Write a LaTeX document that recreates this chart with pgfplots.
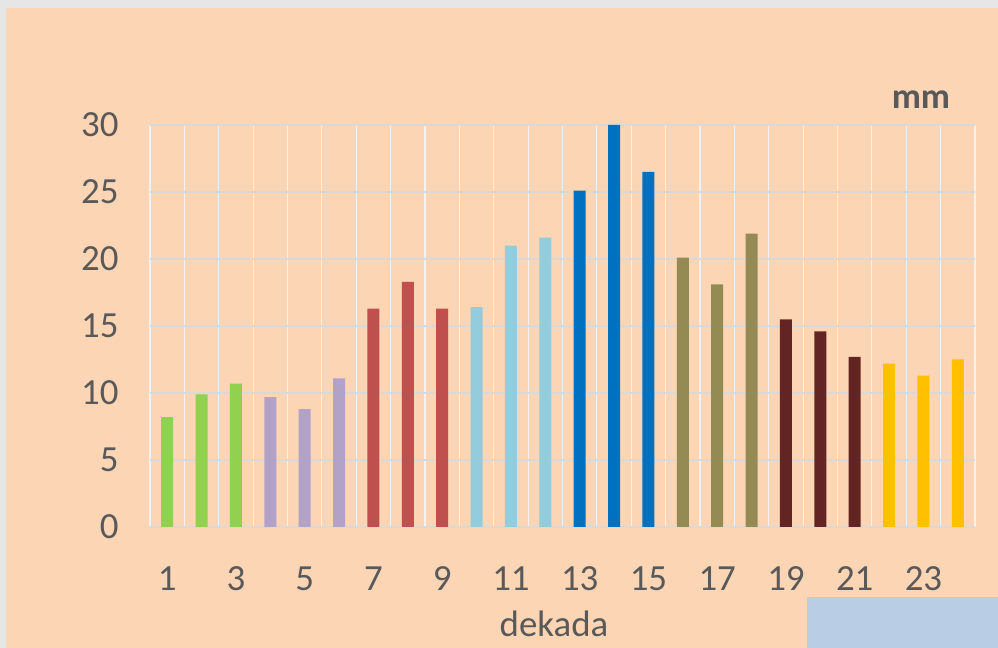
\documentclass[border=0pt]{standalone}
\usepackage{pgfplots}
\pgfplotsset{compat=1.18}
\usepackage{fontspec}
\setmainfont{Carlito}
\definecolor{peach}{HTML}{FCD5B5}
\definecolor{bordergrey}{HTML}{E6E6E6}
\definecolor{bluebox}{HTML}{B9CDE5}
\definecolor{txt}{HTML}{595959}
\definecolor{gridh}{HTML}{D9D9D9}
\definecolor{gridv}{HTML}{F2F2F2}
\definecolor{c1}{HTML}{92D050}
\definecolor{c2}{HTML}{B3A2C7}
\definecolor{c3}{HTML}{C0504D}
\definecolor{c4}{HTML}{93CDDD}
\definecolor{c5}{HTML}{0070C0}
\definecolor{c6}{HTML}{948A54}
\definecolor{c7}{HTML}{632523}
\definecolor{c8}{HTML}{FFC000}
\begin{document}
\begin{tikzpicture}[x=1bp,y=1bp]
\fill[bordergrey] (0,0) rectangle (998,648);
\fill[peach] (6,0) rectangle (998,640);
\fill[bluebox] (807,0) rectangle (998,51);
\begin{axis}[
  at={(150bp,121bp)}, anchor=south west,
  scale only axis, width=825bp, height=402bp,
  xmin=0.5, xmax=24.5, ymin=0, ymax=30,
  xtick={1,3,...,23},
  minor xtick={0.5,1.5,...,24.5},
  ytick={0,5,...,30},
  ymajorgrids, xminorgrids,
  major grid style={draw=gridh, line width=1.2pt},
  minor grid style={draw=gridv, line width=1.2pt},
  axis line style={draw=none},
  x axis line style={draw=gridh, line width=1.2pt},
  axis x line*=bottom, axis y line*=left,
  y axis line style={draw=none},
  major tick length=0pt, minor tick length=0pt,
  tick style={draw=none},
  /pgf/number format/assume math mode=true,
  ticklabel style={font=\fontsize{37}{42}\selectfont, text=txt},
  xticklabel style={yshift=-36bp},
  yticklabel style={xshift=-28bp},
  ybar, bar width=12bp,
  every axis plot/.append style={bar shift=0pt, draw=none},
  clip=false,
]
\addplot[fill=c1] coordinates {(1,8.2) (2,9.9) (3,10.7)};
\addplot[fill=c2] coordinates {(4,9.7) (5,8.8) (6,11.1)};
\addplot[fill=c3] coordinates {(7,16.3) (8,18.3) (9,16.3)};
\addplot[fill=c4] coordinates {(10,16.4) (11,21.0) (12,21.6)};
\addplot[fill=c5] coordinates {(13,25.1) (14,30.0) (15,26.5)};
\addplot[fill=c6] coordinates {(16,20.1) (17,18.1) (18,21.9)};
\addplot[fill=c7] coordinates {(19,15.5) (20,14.6) (21,12.7)};
\addplot[fill=c8] coordinates {(22,12.2) (23,11.3) (24,12.5)};
\end{axis}
\node[font=\fontsize{37}{42}\selectfont, text=txt] at (554,24) {dekada};
\node[font=\fontsize{36}{42}\selectfont\bfseries, text=txt] at (921,548) {mm};
\pgfresetboundingbox
\path (0,0) rectangle (998,648);
\end{tikzpicture}
\end{document}
